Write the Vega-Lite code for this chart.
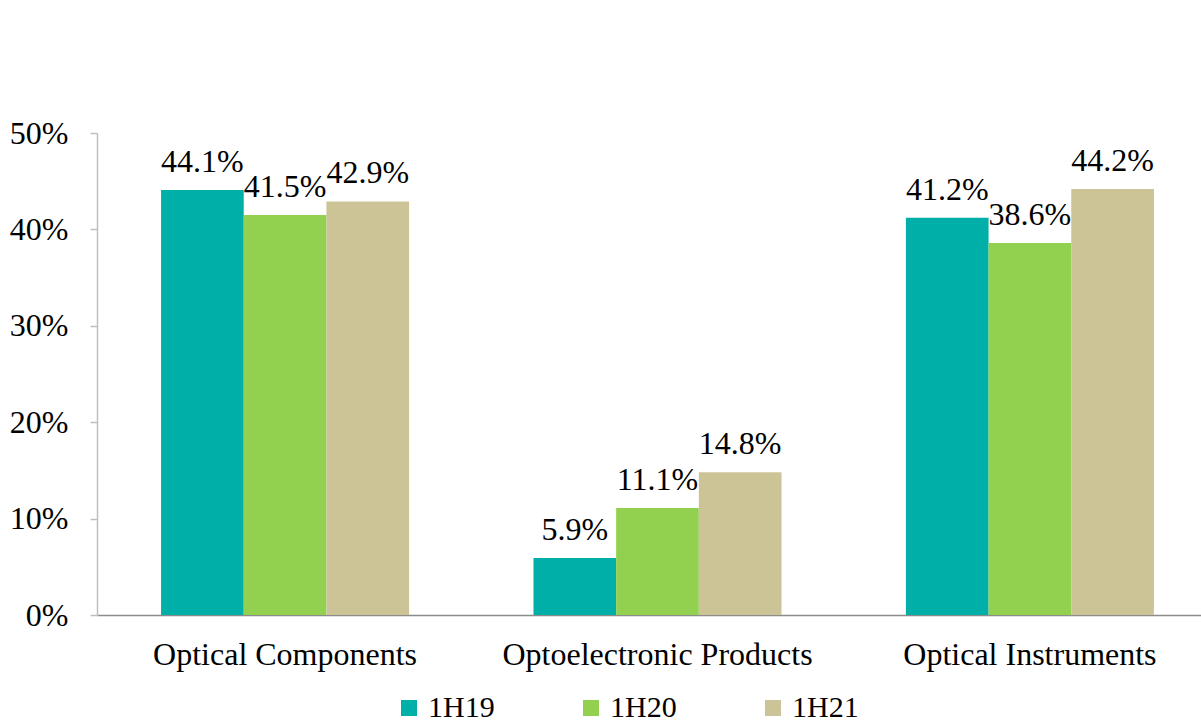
{
  "$schema": "https://vega.github.io/schema/vega-lite/v6.json",
  "autosize": "none",
  "padding": {"left": 97, "top": 133, "right": 0, "bottom": 107},
  "width": 1121,
  "height": 482,
  "background": "white",
  "data": {
    "values": [
      {"category": "Optical Components", "period": "1H19", "value": 0.441},
      {"category": "Optical Components", "period": "1H20", "value": 0.415},
      {"category": "Optical Components", "period": "1H21", "value": 0.429},
      {"category": "Optoelectronic Products", "period": "1H19", "value": 0.059},
      {"category": "Optoelectronic Products", "period": "1H20", "value": 0.111},
      {"category": "Optoelectronic Products", "period": "1H21", "value": 0.148},
      {"category": "Optical Instruments", "period": "1H19", "value": 0.412},
      {"category": "Optical Instruments", "period": "1H20", "value": 0.386},
      {"category": "Optical Instruments", "period": "1H21", "value": 0.442}
    ]
  },
  "config": {
    "font": "Liberation Serif",
    "view": {"stroke": null}
  },
  "encoding": {
    "x": {
      "field": "category",
      "type": "nominal",
      "sort": ["Optical Components", "Optoelectronic Products", "Optical Instruments"],
      "scale": {"paddingInner": 0.334, "paddingOuter": 0.172},
      "axis": {
        "title": null,
        "labelAngle": 0,
        "labelFont": "Liberation Serif",
        "labelFontSize": 32,
        "labelColor": "#000000",
        "labelPadding": 24,
        "ticks": false,
        "domainColor": "#8c8c8c",
        "domainWidth": 1.5,
        "labelLimit": 400
      }
    },
    "xOffset": {"field": "period", "type": "nominal", "sort": ["1H19", "1H20", "1H21"], "scale": {"paddingInner": 0, "paddingOuter": 0}},
    "y": {
      "field": "value",
      "type": "quantitative",
      "scale": {"domain": [0, 0.5]},
      "axis": {
        "title": null,
        "format": ".0%",
        "values": [0, 0.1, 0.2, 0.3, 0.4, 0.5],
        "grid": false,
        "labelFont": "Liberation Serif",
        "labelFontSize": 32,
        "labelColor": "#000000",
        "labelPadding": 22,
        "tickSize": 7,
        "tickColor": "#bfbfbf",
        "domainColor": "#bfbfbf",
        "tickWidth": 1.5,
        "domainWidth": 1.5
      }
    }
  },
  "layer": [
    {
      "mark": {"type": "bar"},
      "encoding": {
        "color": {
          "field": "period",
          "type": "nominal",
          "sort": ["1H19", "1H20", "1H21"],
          "scale": {"domain": ["1H19", "1H20", "1H21"], "range": ["#00B0A8", "#92D050", "#CCC496"]},
          "legend": {
            "title": null,
            "orient": "none",
            "direction": "horizontal",
            "columns": 3,
            "legendX": 297,
            "legendY": 560,
            "symbolType": "square",
            "symbolSize": 256,
            "symbolStrokeWidth": 0,
            "labelFont": "Liberation Serif",
            "labelFontSize": 30,
            "labelColor": "#000000",
            "labelOffset": 4,
            "columnPadding": 81
          }
        }
      }
    },
    {
      "mark": {"type": "text", "baseline": "alphabetic", "dy": -18, "font": "Liberation Serif", "fontSize": 32, "color": "#000000"},
      "encoding": {
        "text": {"field": "value", "type": "quantitative", "format": ".1%"}
      }
    }
  ]
}
